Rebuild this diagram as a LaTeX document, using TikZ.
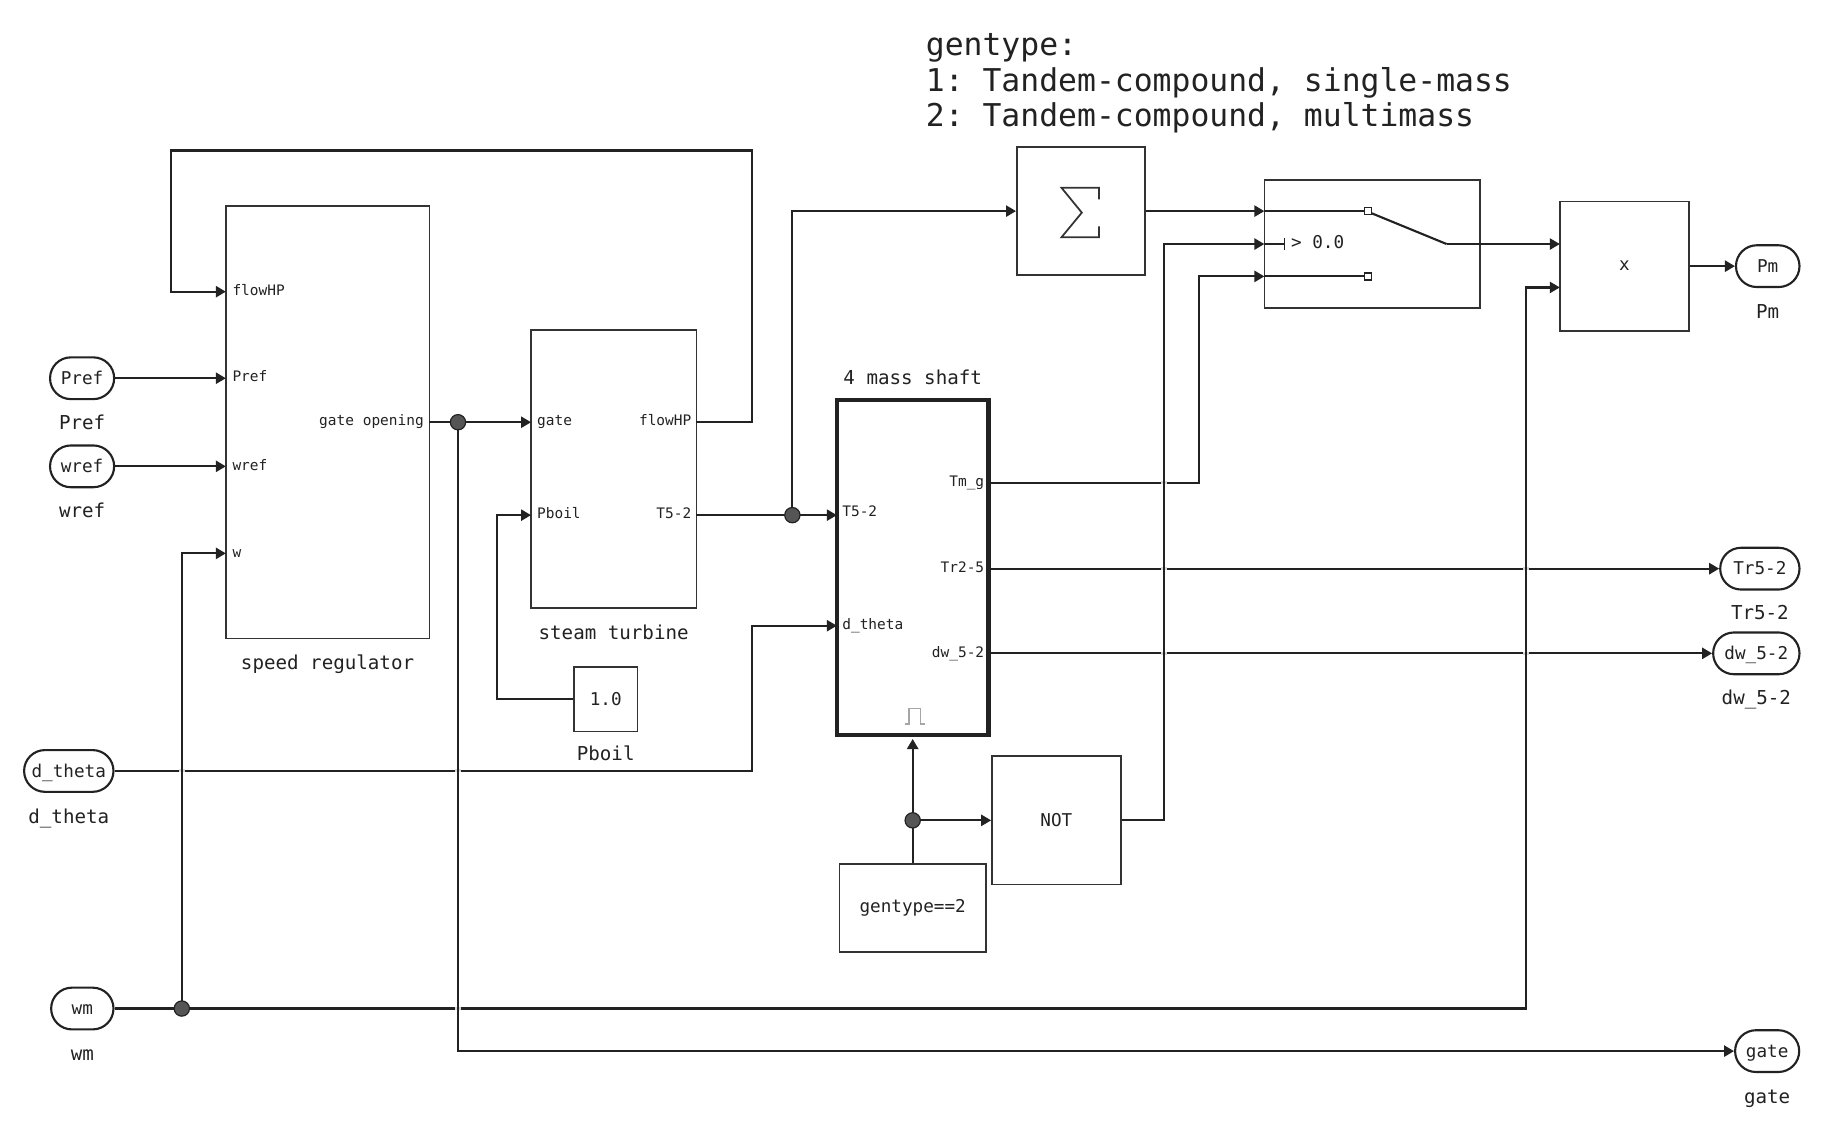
\documentclass[tikz,border=0pt]{standalone}
\usepackage{fontspec}
\setmonofont{DejaVu Sans Mono}
\usetikzlibrary{arrows.meta}
\definecolor{ink}{HTML}{222222}
\definecolor{frame}{HTML}{333333}
\definecolor{dotfill}{HTML}{555555}
\begin{document}
\begin{tikzpicture}[x=1pt,y=-1pt,
  every node/.style={font=\ttfamily, text=ink},
  blk/.style={draw=frame, line width=1.3pt, fill=white, inner sep=0pt},
  term/.style={draw=ink, line width=1.8pt, fill=white, inner sep=0pt, minimum height=35.5pt, rounded corners=17.7pt, text height=10.5pt, text depth=0pt, font=\fontsize{15}{18}\selectfont\ttfamily},
  wire/.style={draw=ink, line width=1.8pt},
  arr/.style={wire, -{Triangle[length=8.5pt,width=9.5pt]}},
  plabel/.style={font=\fontsize{12.3}{14}\selectfont\ttfamily, inner sep=0pt},
  blabel/.style={font=\fontsize{16.3}{19}\selectfont\ttfamily, inner sep=0pt},
  btext/.style={font=\fontsize{15}{18}\selectfont\ttfamily, inner sep=0pt},
  hdr/.style={font=\fontsize{26.7}{30}\selectfont\ttfamily, inner sep=0pt},
  jdot/.style={circle, fill=dotfill, draw=ink, line width=1pt, minimum size=13pt, inner sep=0pt},
  gapmark/.style={draw=gray!30, line width=2.6pt},
  vwire/.style={draw=ink, line width=1.5pt}
]
\useasboundingbox[fill=white] (0,0) rectangle (1567,965);

% ---------- header text
\node[hdr, anchor=base west] (h1) at (787,46.8) {gentype:};
\node[hdr, anchor=base west] (h2) at (787,77.6) {1: Tandem-compound, single-mass};
\node[hdr, anchor=base west] (h3) at (787,107.4) {2: Tandem-compound, multimass};

% ---------- blocks
\node[blk, minimum width=173pt, minimum height=368pt] (sr) at (278.5,359) {};
\node[blk, minimum width=140.5pt, minimum height=236.5pt] (st) at (521.75,398.75) {};
\node[blk, minimum width=54pt, minimum height=55pt, btext] (pb) at (515,594.5) {1.0};
\node[blk, minimum width=109pt, minimum height=109pt] (sum) at (919,179.5) {};
\node[blk, minimum width=183.5pt, minimum height=109pt] (sw) at (1166.75,207.5) {};
\node[blk, minimum width=110pt, minimum height=110pt, btext] (prod) at (1381.2,226.3) {x};
\node[draw=ink, line width=3.5pt, fill=white, inner sep=0pt, minimum width=129pt, minimum height=285pt] (shaft) at (776,482.5) {};
\node[blk, minimum width=109.7pt, minimum height=109pt, btext] (notb) at (898.2,697.5) {NOT};
\node[blk, minimum width=124.5pt, minimum height=75pt, btext] (gt) at (776,772) {gentype==2};

% ---------- terminals
\node[term, minimum width=54.5pt] (tPref) at (69.8,321.6) {Pref};
\node[term, minimum width=54.5pt] (tWref) at (69.8,396.5) {wref};
\node[term, minimum width=76pt] (tDth) at (58.5,655.5) {d\_theta};
\node[term, minimum width=53pt] (tWm) at (70,857.5) {wm};
\node[term, minimum width=54pt] (tPm) at (1503,226.3) {Pm};
\node[term, minimum width=67.4pt] (tTr) at (1496.3,483.5) {Tr5-2};
\node[term, minimum width=73.4pt] (tDw) at (1493.3,555.5) {dw\_5-2};
\node[term, minimum width=54.5pt] (tGate) at (1502.5,893.7) {gate};

% ---------- terminal labels
\node[blabel, anchor=base] (lPref) at (69.8,365.4) {Pref};
\node[blabel, anchor=base] (lWref) at (69.8,439.8) {wref};
\node[blabel, anchor=base] (lDth) at (58.5,700) {d\_theta};
\node[blabel, anchor=base] (lWm) at (70,901.5) {wm};
\node[blabel, anchor=base] (lPm) at (1503,270.5) {Pm};
\node[blabel, anchor=base] (lTr) at (1496.3,526.6) {Tr5-2};
\node[blabel, anchor=base] (lDw) at (1493.3,599) {dw\_5-2};
\node[blabel, anchor=base] (lGate) at (1502.5,938.5) {gate};

% ---------- block labels
\node[blabel, anchor=base] (lsr) at (278.5,569) {speed regulator};
\node[blabel, anchor=base] (lst) at (521.75,544) {steam turbine};
\node[blabel, anchor=base] (lpb) at (515,647) {Pboil};
\node[blabel, anchor=base] (lsh) at (776,326.5) {4 mass shaft};

% ---------- port labels
\node[plabel, anchor=mid west] (p1) at (197.5,249) {flowHP};
\node[plabel, anchor=mid west] (p2) at (197.5,322.6) {Pref};
\node[plabel, anchor=mid west] (p3) at (197.5,397.5) {wref};
\node[plabel, anchor=mid west] (p4) at (197.5,471.5) {w};
\node[plabel, anchor=mid east] (p5) at (360.5,360) {gate opening};
\node[plabel, anchor=mid west] (p6) at (456.5,360) {gate};
\node[plabel, anchor=mid west] (p7) at (456.5,439) {Pboil};
\node[plabel, anchor=mid east] (p8) at (588,360) {flowHP};
\node[plabel, anchor=mid east] (p9) at (588,439) {T5-2};
\node[plabel, anchor=mid west] (p10) at (716,437) {T5-2};
\node[plabel, anchor=mid west] (p11) at (716,533) {d\_theta};
\node[plabel, anchor=mid east] (p12) at (837,411.5) {Tm\_g};
\node[plabel, anchor=mid east] (p13) at (837,485) {Tr2-5};
\node[plabel, anchor=mid east] (p14) at (837,557) {dw\_5-2};

% ---------- port coordinates
\coordinate (sr-flow) at (192,248);
\coordinate (sr-pref) at (192,321.6);
\coordinate (sr-wref) at (192,396.5);
\coordinate (sr-w) at (192,470.5);
\coordinate (sr-out) at (365,359);
\coordinate (st-gate) at (451.5,359);
\coordinate (st-pboil) at (451.5,438);
\coordinate (st-flow) at (592,359);
\coordinate (st-t52) at (592,438);
\coordinate (sh-t52) at (711.5,438);
\coordinate (sh-dth) at (711.5,532);
\coordinate (sh-tmg) at (840.5,410.5);
\coordinate (sh-tr) at (840.5,483.5);
\coordinate (sh-dw) at (840.5,555.5);
\coordinate (sw-in1) at (1075,179.5);
\coordinate (sw-in2) at (1075,207.5);
\coordinate (sw-in3) at (1075,235);
\coordinate (sw-out) at (1230,207.5);
\coordinate (pr-in1) at (1326.2,207.5);
\coordinate (pr-in2) at (1326.2,244.4);
\coordinate (jg) at (389.4,359);
\coordinate (jt) at (673.7,438);
\coordinate (jw) at (154.6,857.5);
\coordinate (jn) at (776,697.5);

% ---------- sigma
\draw[draw=frame, line width=1.5pt, miter limit=10] (934.5,169.5) -- (934.5,159.6) -- (902.5,159.6) -- (919.8,180.8) -- (902.5,201.8) -- (934.5,201.8) -- (934.5,192.5);

% ---------- switch internals
\draw[wire] (sw-in1) -- (1160,179.5);
\draw[wire] (1166.4,181.4) -- (sw-out);
\draw[wire] (sw-in3) -- (1160,235);
\draw[draw=ink, line width=1.3pt, fill=white] (1160,176.5) rectangle (1166,182.5);
\draw[draw=ink, line width=1.3pt, fill=white] (1160,232) rectangle (1166,238);
\draw[wire] (sw-in2) -- (1092,207.5);
\draw[draw=ink, line width=1.3pt] (1092,202.5) -- (1092,212.5);
\node[btext, anchor=mid west] (thr) at (1097.5,209) {> 0.0};

% ---------- pulse symbol
\draw[draw=gray!70, line width=1.2pt] (769.6,615.6) -- (773,615.6) -- (773,602.3) -- (782.8,602.3) -- (782.8,615.6) -- (786.7,615.6);

% ---------- connectors
\draw[arr] (st-flow) -- (639.2,359) -- (639.2,128) -- (145.3,128) -- (145.3,248) -- (sr-flow);
\draw[arr] (tPref.east) -- (sr-pref);
\draw[arr] (tWref.east) -- (sr-wref);
\draw[wire] (tWm.east) -- (jw);
\draw[arr] (jw) |- (sr-w);
\draw[arr] (jw) -- (1297.5,857.5) |- (pr-in2);
\draw[wire] (sr-out) -- (jg);
\draw[arr] (jg) -- (st-gate);
\draw[arr] (jg) |- (tGate.west);
\draw[arr] (pb.west) -- (422.5,594.5) |- (st-pboil);
\draw[wire] (st-t52) -- (jt);
\draw[arr] (jt) -- (sh-t52);
\draw[arr] (jt) |- (sum.west);
\draw[arr] (tDth.east) -- (639.5,655.5) |- (sh-dth);
\draw[arr] (sh-tmg) -- (1019.6,410.5) |- (sw-in3);
\draw[arr] (sh-tr) -- (tTr.west);
\draw[arr] (sh-dw) -- (tDw.west);
\draw[wire] (gt.north) -- (jn);
\draw[arr, shorten >=1.6pt] (jn) -- (shaft.south);
\draw[arr] (jn) -- (notb.west);
\draw[arr] (notb.east) -- (989.8,697.5) |- (sw-in2);
\draw[arr] (sum.east) -- (sw-in1);
\draw[arr] (sw-out) -- (pr-in1);
\draw[arr] (prod.east) -- (tPm.west);

% ---------- crossing marks
\foreach \cx/\cy in {154.6/655.5, 389.4/655.5, 389.4/857.5, 989.8/410.5, 989.8/483.5, 989.8/555.5, 1297.5/483.5, 1297.5/555.5} {
  \draw[gapmark] (\cx-2.8,\cy) -- (\cx+2.8,\cy);
  \draw[vwire] (\cx,\cy-4) -- (\cx,\cy+4);
}

% ---------- junction dots
\node[jdot] (dg) at (jg) {};
\node[jdot] (dt) at (jt) {};
\node[jdot] (dw) at (jw) {};
\node[jdot] (dn) at (jn) {};
\end{tikzpicture}
\end{document}
